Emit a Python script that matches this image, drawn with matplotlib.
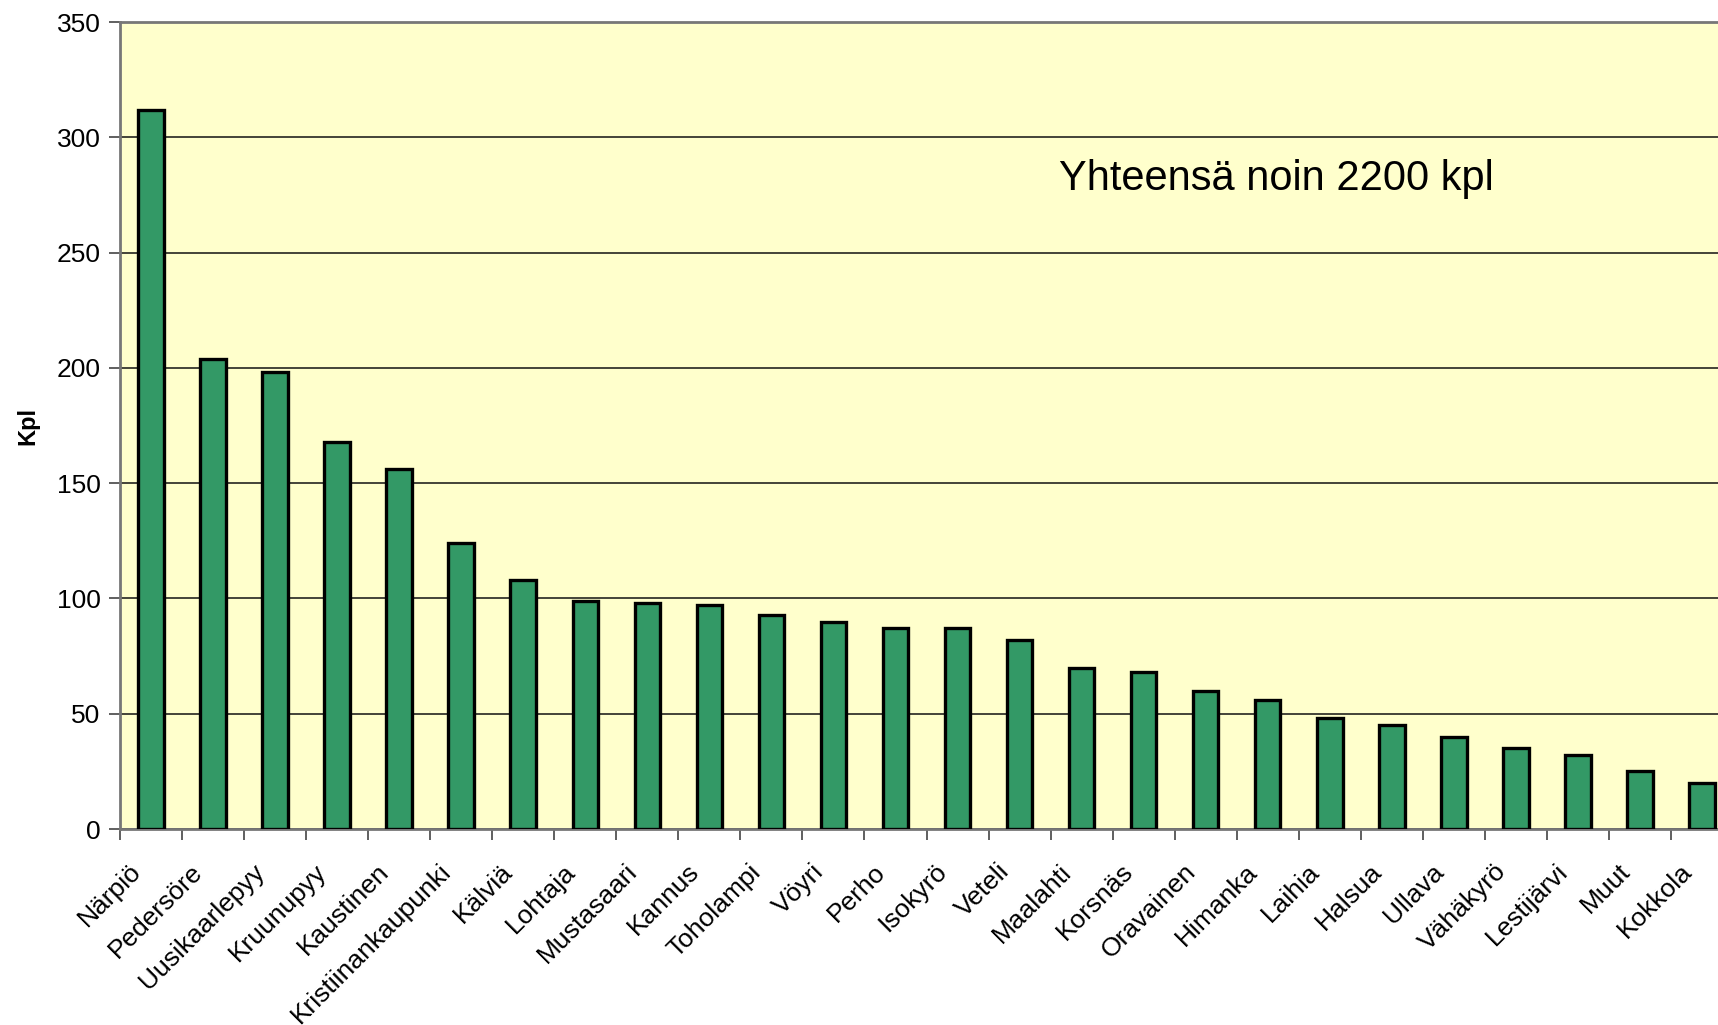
import matplotlib
matplotlib.use("Agg")
import matplotlib.pyplot as plt
import matplotlib.transforms as mtransforms
import numpy as np

plt.rcParams['font.family'] = ['Liberation Sans', 'DejaVu Sans']

kunnat = ["Närpiö", "Pedersöre", "Uusikaarlepyy", "Kruunupyy", "Kaustinen",
          "Kristiinankaupunki", "Kälviä", "Lohtaja", "Mustasaari", "Kannus",
          "Toholampi", "Vöyri", "Perho", "Isokyrö", "Veteli", "Maalahti",
          "Korsnäs", "Oravainen", "Himanka", "Laihia", "Halsua", "Ullava",
          "Vähäkyrö", "Lestijärvi", "Muut", "Kokkola"]
kpl = [312, 204, 198, 168, 156, 124, 108, 99, 98, 97, 93, 90, 87, 87, 82,
       70, 68, 60, 56, 48, 45, 40, 35, 32, 25, 20]
y_ticks = [0, 50, 100, 150, 200, 250, 300, 350]

fig = plt.figure(figsize=(17.18, 10.25), dpi=100)
ax = fig.add_axes([0.0698, 0.1912, 0.939, 0.7873])
ax.set_facecolor("#FFFFCC")

x = np.arange(len(kunnat))
ax.bar(x, kpl, width=0.41, color="#339966", edgecolor="black", linewidth=2.4, zorder=3)

ax.set_xlim(-0.5, len(kunnat) - 0.5)
ax.set_ylim(0, 350)
ax.set_yticks(y_ticks)
ax.set_yticklabels([str(v) for v in y_ticks], fontsize=19)
ax.grid(axis="y", color="#111111", linewidth=1.1, zorder=1)

# category boundary ticks, labels centered on bars
ax.set_xticks(np.arange(len(kunnat) + 1) - 0.5)
ax.set_xticklabels([])
ax.set_xticks(x, minor=True)
ax.set_xticklabels(kunnat, minor=True, rotation=45, ha="right", va="center",
                   rotation_mode="anchor", fontsize=19)
ax.tick_params(axis="x", which="minor", length=0, pad=28)
ax.tick_params(axis="x", which="major", length=8, width=1.2, color="#444444")
ax.tick_params(axis="y", length=8, width=1.2, color="#444444", pad=6)
shift = mtransforms.ScaledTranslation(-14 / 100, 0, fig.dpi_scale_trans)
for lbl in ax.get_xticklabels(minor=True):
    lbl.set_transform(lbl.get_transform() + shift)

for s in ["left", "bottom", "top"]:
    ax.spines[s].set_color("#777777")
    ax.spines[s].set_linewidth(2)
ax.spines["right"].set_visible(False)

ax.set_ylabel("Kpl", fontsize=17, fontweight="bold")
ax.yaxis.set_label_coords(-0.05, 0.5)

ax.text(0.582, 0.805, "Yhteensä noin 2200 kpl", transform=ax.transAxes,
        fontsize=30, va="center", ha="left")

plt.savefig("out.png", dpi=100)
plt.close()
